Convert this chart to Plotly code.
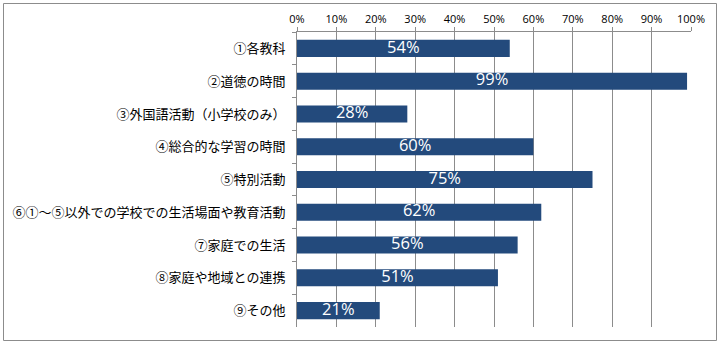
import plotly.graph_objects as go

categories = [
    "①各教科",
    "②道徳の時間",
    "③外国語活動（小学校のみ）",
    "④総合的な学習の時間",
    "⑤特別活動",
    "⑥①～⑤以外での学校での生活場面や教育活動",
    "⑦家庭での生活",
    "⑧家庭や地域との連携",
    "⑨その他",
]
values = [54, 99, 28, 60, 75, 62, 56, 51, 21]
tick_vals = [0, 10, 20, 30, 40, 50, 60, 70, 80, 90, 100]
tick_text = [f"{v}%" for v in tick_vals]

W, H = 721, 344
L, R, T, B = 297, 30, 32, 17

fig = go.Figure()
fig.add_trace(go.Bar(
    x=values,
    y=categories,
    orientation="h",
    marker=dict(color="#234A7C", line=dict(width=0)),
    width=0.52,
    hoverinfo="skip",
))
fig.add_trace(go.Scatter(
    x=[v / 2 for v in values],
    y=categories,
    mode="text",
    text=[f"{v}%" for v in values],
    textposition="middle center",
    textfont=dict(color="white", size=16.5, family="Open Sans, Noto Sans, sans-serif"),
    hoverinfo="skip",
    cliponaxis=False,
))

pw = W - L - R
ph = H - T - B
def px2paper_x(px):
    return (px - L) / pw
def px2paper_y(py):
    return (H - B - py) / ph

fig.update_layout(
    width=W, height=H,
    margin=dict(l=L, r=R, t=T, b=B, pad=0),
    paper_bgcolor="white",
    plot_bgcolor="white",
    showlegend=False,
    bargap=0.48,
    xaxis=dict(
        side="top",
        range=[0, 100],
        tickvals=tick_vals,
        ticktext=tick_text,
        showgrid=True,
        gridcolor="#8C8C8C",
        gridwidth=1,
        ticks="outside",
        ticklen=4,
        tickcolor="#8C8C8C",
        showline=True,
        linecolor="#8C8C8C",
        linewidth=1,
        zeroline=False,
        tickfont=dict(size=11, color="#000000", family="Open Sans, Noto Sans, sans-serif"),
        fixedrange=True,
    ),
    yaxis=dict(
        autorange="reversed",
        showgrid=False,
        ticks="outside",
        ticklen=4,
        tickcolor="#8C8C8C",
        tickson="boundaries",
        showline=True,
        linecolor="#8C8C8C",
        linewidth=1,
        tickfont=dict(size=13, color="#000000", family="Noto Sans CJK JP, sans-serif"),
        ticklabelstandoff=8,
        fixedrange=True,
    ),
    shapes=[dict(
        type="rect", xref="paper", yref="paper",
        x0=px2paper_x(3.5), x1=px2paper_x(716.5),
        y0=px2paper_y(3.5), y1=px2paper_y(340.5),
        line=dict(color="#8C8C8C", width=1),
        fillcolor="rgba(0,0,0,0)",
        layer="below",
    )],
)

fig.write_html("out.html")
